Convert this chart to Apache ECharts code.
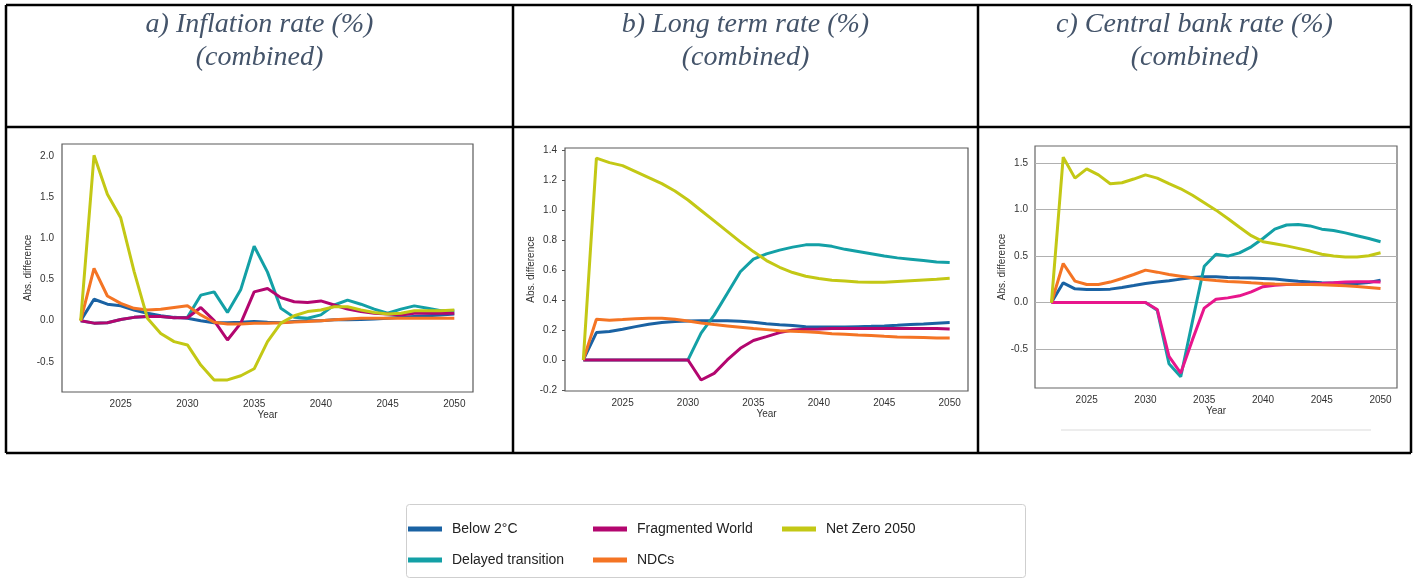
<!DOCTYPE html>
<html>
<head>
<meta charset="utf-8">
<script src="https://cdn.jsdelivr.net/npm/echarts@6/dist/echarts.min.js"></script>
<style>
html,body{margin:0;padding:0;background:#fff;}
#chart{width:1418px;height:579px;}
</style>
</head>
<body>
<div id="chart"></div>
<script>
// ---------- data ----------
const years = [2022,2023,2024,2025,2026,2027,2028,2029,2030,2031,2032,2033,2034,2035,2036,2037,2038,2039,2040,2041,2042,2043,2044,2045,2046,2047,2048,2049,2050];
const seriesNames = ['Below 2°C','Delayed transition','Fragmented World','NDCs','Net Zero 2050'];
const xTicks = [2025,2030,2035,2040,2045,2050];

const panelTitles = [
  ['a) Inflation rate (%)','(combined)'],
  ['b) Long term rate (%)','(combined)'],
  ['c) Central bank rate (%)','(combined)']
];
const yTicksA = [-0.5,0,0.5,1,1.5,2];
const yTicksB = [-0.2,0,0.2,0.4,0.6,0.8,1.0,1.2,1.4];
const yTicksC = [-0.5,0,0.5,1,1.5];

// a) Inflation rate
const inflBelow2 = [0,0.26,0.20,0.18,0.13,0.09,0.06,0.04,0.03,0.0,-0.025,-0.025,-0.02,-0.01,-0.02,-0.025,-0.01,0.0,0.0,0.01,0.01,0.015,0.02,0.03,0.04,0.05,0.06,0.07,0.08];
const inflDelayed = [0,-0.03,-0.025,0.015,0.04,0.05,0.05,0.035,0.04,0.31,0.35,0.10,0.38,0.905,0.59,0.15,0.04,0.03,0.07,0.19,0.25,0.20,0.14,0.09,0.14,0.18,0.15,0.12,0.12];
const inflFragmented = [0,-0.03,-0.025,0.015,0.04,0.05,0.05,0.035,0.035,0.16,0.0,-0.235,-0.03,0.35,0.39,0.28,0.23,0.22,0.24,0.19,0.14,0.11,0.09,0.08,0.07,0.09,0.09,0.09,0.09];
const inflNDCs = [0,0.635,0.30,0.21,0.15,0.13,0.14,0.16,0.18,0.07,-0.02,-0.04,-0.04,-0.03,-0.03,-0.025,-0.015,-0.01,0.0,0.01,0.02,0.03,0.03,0.03,0.03,0.03,0.03,0.03,0.03];
const inflNZ = [0,2.01,1.535,1.25,0.6,0.03,-0.155,-0.255,-0.295,-0.54,-0.72,-0.72,-0.67,-0.585,-0.255,-0.03,0.06,0.11,0.13,0.17,0.17,0.13,0.10,0.08,0.09,0.12,0.12,0.12,0.13];

// b) Long term rate
const ltBelow2 = [0,0.183,0.19,0.205,0.223,0.239,0.25,0.257,0.26,0.263,0.263,0.263,0.259,0.252,0.243,0.236,0.23,0.223,0.221,0.221,0.221,0.223,0.225,0.228,0.232,0.237,0.241,0.246,0.25];
const ltDelayed = [0,0,0,0,0,0,0,0,0,0.18,0.30,0.445,0.59,0.675,0.71,0.735,0.755,0.77,0.77,0.76,0.74,0.725,0.71,0.695,0.683,0.674,0.665,0.656,0.652];
const ltFragmented = [0,0,0,0,0,0,0,0,0,-0.134,-0.09,0.0,0.078,0.13,0.156,0.183,0.20,0.205,0.207,0.21,0.21,0.21,0.21,0.21,0.21,0.21,0.21,0.21,0.207];
const ltNDCs = [0,0.272,0.266,0.27,0.275,0.279,0.279,0.272,0.261,0.248,0.237,0.228,0.219,0.21,0.203,0.196,0.192,0.188,0.183,0.176,0.172,0.167,0.163,0.158,0.154,0.152,0.15,0.147,0.147];
const ltNZ = [0,1.35,1.32,1.30,1.26,1.22,1.18,1.13,1.07,1.00,0.93,0.86,0.79,0.725,0.665,0.62,0.585,0.56,0.545,0.533,0.529,0.522,0.52,0.52,0.525,0.53,0.535,0.54,0.547];

// c) Central bank rate
const cbBelow2 = [0,0.212,0.147,0.14,0.14,0.144,0.162,0.183,0.205,0.22,0.234,0.252,0.27,0.277,0.277,0.27,0.266,0.263,0.259,0.252,0.241,0.23,0.22,0.212,0.209,0.205,0.205,0.216,0.241];
const cbDelayed = [0,0,0,0,0,0,0,0,0,-0.083,-0.66,-0.80,-0.2,0.39,0.52,0.50,0.535,0.60,0.69,0.79,0.835,0.84,0.825,0.79,0.775,0.75,0.72,0.69,0.655];
const cbFragmented = [0,0,0,0,0,0,0,0,0,-0.075,-0.58,-0.76,-0.4,-0.06,0.035,0.05,0.072,0.115,0.17,0.187,0.194,0.198,0.2,0.205,0.212,0.22,0.223,0.223,0.22];
const cbNDCs = [0,0.42,0.23,0.194,0.194,0.22,0.259,0.302,0.349,0.327,0.302,0.284,0.266,0.248,0.237,0.227,0.22,0.212,0.205,0.2,0.198,0.194,0.194,0.19,0.187,0.18,0.173,0.162,0.151];
const cbNZ = [0,1.565,1.34,1.44,1.375,1.28,1.29,1.33,1.375,1.34,1.28,1.225,1.155,1.075,0.995,0.905,0.81,0.72,0.655,0.633,0.61,0.583,0.554,0.52,0.5,0.49,0.49,0.504,0.536];

// ---------- styling ----------
const colors = ['#1a62a3','#13a0a6','#b3066f','#f47424','#c3c815'];
const colorsC = ['#1a62a3','#13a0a6','#e8168c','#f47424','#c3c815'];
const tickFont = 'Liberation Sans, Arial, sans-serif';

const panels = [
  {grid:{left:62, top:144, width:411, height:248}, ymin:-0.867, ymax:2.147, yt:yTicksA, data:[inflBelow2,inflDelayed,inflFragmented,inflNDCs,inflNZ], cols:colors, frame:'#5a5a5a', grid2:false, ticks:false, nameGap:27, ygap:8},
  {grid:{left:565, top:148, width:403, height:243}, ymin:-0.2076, ymax:1.418, yt:yTicksB, data:[ltBelow2,ltDelayed,ltFragmented,ltNDCs,ltNZ], cols:colors, frame:'#5a5a5a', grid2:false, ticks:true, nameGap:28, ygap:8},
  {grid:{left:1035, top:146, width:362, height:242}, ymin:-0.921, ymax:1.686, yt:yTicksC, data:[cbBelow2,cbDelayed,cbFragmented,cbNDCs,cbNZ], cols:colorsC, frame:'#666666', grid2:true, ticks:false, nameGap:23, ygap:7}
];

const grids=[], xAxes=[], yAxes=[], series=[];
panels.forEach((p,i)=>{
  grids.push(Object.assign({show:true, borderColor:p.frame, borderWidth:1.2, backgroundColor:'transparent', containLabel:false}, p.grid));
  xAxes.push({
    type:'value', gridIndex:i, min:2020.6, max:2051.4,
    name:'Year', nameLocation:'middle', nameGap:18,
    nameTextStyle:{fontFamily:tickFont, fontSize:10, color:'#333'},
    axisLine:{show:false}, axisTick:{show:false, customValues:xTicks},
    splitLine:{show:false},
    axisLabel:{customValues:xTicks, fontFamily:tickFont, fontSize:10, color:'#333', margin:7,
      formatter:v=>String(v)}
  });
  yAxes.push({
    type:'value', gridIndex:i, min:p.ymin, max:p.ymax,
    name:'Abs. difference', nameLocation:'middle', nameRotate:90, nameGap:p.nameGap,
    nameTextStyle:{fontFamily:tickFont, fontSize:10, color:'#333'},
    axisLine:{show:false},
    axisTick:{show:p.ticks, length:3, customValues:p.yt, lineStyle:{color:'#555'}},
    splitLine:{show:p.grid2, lineStyle:{color:'#b0b0b0', width:1}},
    axisLabel:{customValues:p.yt, fontFamily:tickFont, fontSize:10, color:'#333', margin:p.ygap,
      formatter:v=>v.toFixed(1)}
  });
  seriesNames.forEach((n,k)=>{
    series.push({
      type:'line', name:n, xAxisIndex:i, yAxisIndex:i,
      data: years.map((y,j)=>[y, p.data[k][j]]),
      showSymbol:false, symbol:'none', smooth:false,
      lineStyle:{width:3, color:p.cols[k]}, itemStyle:{color:p.cols[k]},
      z:2+k, animation:false
    });
  });
});

// table lines and titles
const graphics = [];
const L=6, R=1411, T=5, B=453, MID=127, C1=513, C2=978;
const lineStyle = {stroke:'#000', lineWidth:2.5};
[[L,T,R,T],[L,B,R,B],[L,T,L,B],[R,T,R,B],[L,MID,R,MID],[C1,T,C1,B],[C2,T,C2,B]].forEach(s=>{
  graphics.push({type:'line', shape:{x1:s[0],y1:s[1],x2:s[2],y2:s[3]}, style:lineStyle, z:100, silent:true});
});
const centers=[259.5,745.5,1194.5];
panelTitles.forEach((t,i)=>{
  t.forEach((line,j)=>{
    graphics.push({type:'text', x:centers[i], y:j===0?25:58, silent:true,
      style:{text:line, align:'center', verticalAlign:'middle', fill:'#44546a',
        font:'italic 28px "Liberation Serif", serif'}});
  });
});
// faint line under chart c (cropped legend frame)
graphics.push({type:'line', shape:{x1:1061,y1:430,x2:1371,y2:430}, style:{stroke:'#dcdcdc', lineWidth:1.2}, silent:true});
// legend box
graphics.push({type:'rect', shape:{x:406.5,y:504.5,width:619,height:73,r:3}, style:{fill:'#fff', stroke:'#cfcfcf', lineWidth:1}, z:-1, silent:true});

// legend: one component per entry, arranged in 3 columns x 2 rows
const legendCols = [408, 408, 593, 593, 782];
const legendRows = [529, 560, 529, 560, 529];
const legends = seriesNames.map((n,k)=>({
  orient:'horizontal', left:legendCols[k], top:legendRows[k]-10, padding:0,
  itemWidth:34, itemHeight:5, itemGap:0, icon:'rect', selectedMode:false,
  data:[n],
  textStyle:{fontFamily:tickFont, fontSize:14, color:'#222', lineHeight:20, padding:[0,0,0,5]}
}));

const chart = echarts.init(document.getElementById('chart'), null, {renderer:'canvas'});
chart.setOption({
  animation:false,
  backgroundColor:'#fff',
  grid:grids, xAxis:xAxes, yAxis:yAxes, series:series,
  legend:legends, graphic:graphics
});
</script>
</body>
</html>
